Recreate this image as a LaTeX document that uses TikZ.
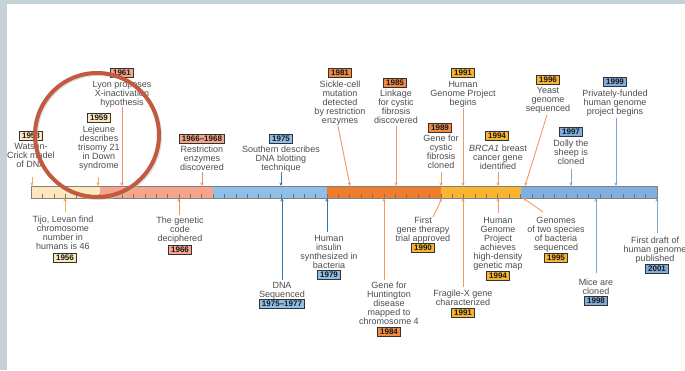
\documentclass[tikz,border=0pt]{standalone}
\usepackage{fontspec}
\setmainfont{Liberation Sans}
\usetikzlibrary{arrows.meta}
\definecolor{strip}{HTML}{C6D1D8}
\definecolor{cream}{HTML}{FCE8BC}
\definecolor{salmon}{HTML}{F6A58B}
\definecolor{lblue}{HTML}{8EBFE8}
\definecolor{orng}{HTML}{EE7E2C}
\definecolor{gold}{HTML}{F9B430}
\definecolor{mblue}{HTML}{80AEDE}
\definecolor{txt}{HTML}{4D4D4D}
\definecolor{ring}{HTML}{C25A40}
\definecolor{ayel}{HTML}{F2B04C}
\definecolor{asal}{HTML}{F08F5F}
\definecolor{ablu}{HTML}{2C78B8}
\definecolor{aorg}{HTML}{F29A66}
\definecolor{amb}{HTML}{7DA5CF}
\tikzset{
  yb/.style={draw=black!80, line width=0.7pt, inner xsep=2.5pt, inner ysep=1.6pt,
    text height=5.8pt, text depth=0pt, font=\fontsize{8}{8}\selectfont\bfseries, text=black!90},
  lbl/.style={align=center, inner sep=0pt, text=txt, font=\fontsize{9}{9}\selectfont, anchor=north},
  arr/.style={-{Stealth[length=3.6pt,width=3.2pt]}, line width=0.9pt},
}
\begin{document}
\begin{tikzpicture}[x=1pt,y=-1pt]
\useasboundingbox (0,0) rectangle (685,370);
% background strips
\fill[white] (0,0) rectangle (685,370);
\fill[strip] (0,0) rectangle (7,370);
\fill[strip] (0,0) rectangle (685,4);

% timeline bar
\fill[cream]  (31,186) rectangle (100,198);
\fill[salmon] (100,186) rectangle (213,198);
\fill[lblue]  (213,186) rectangle (327,198);
\fill[orng]   (327,186) rectangle (441,198);
\fill[gold]   (441,186) rectangle (521,198);
\fill[mblue]  (521,186) rectangle (657,198);
\foreach \k in {1,...,54} \draw[black!55, line width=0.5pt] ({31+\k*11.382},198) -- ({31+\k*11.382},194);
\node[draw=black!50, line width=0.6pt, minimum width=626pt, minimum height=12pt, inner sep=0pt, anchor=north west] (bar) at (31,186) {};

% ---------- top events ----------
% 1953
\node[yb, fill=cream] (y1953) at (31,136) {1953};
\node[lbl] (t1953) at (31,142.7) {Watson-\\Crick model\\of DNA};
\coordinate (s1953) at (32,177); \coordinate (e1953) at (32,186);
\draw[arr, ayel] (s1953) -- (e1953);
% 1959
\node[yb, fill=cream] (y1959) at (99,118) {1959};
\node[lbl] (t1959) at (99,125.7) {Lejeune\\describes\\trisomy 21\\in Down\\syndrome};
\coordinate (s1959) at (98,177); \coordinate (e1959) at (98,186);
\draw[arr, ayel] (s1959) -- (e1959);
% 1961
\node[yb, fill=salmon] (y1961) at (122,73) {1961};
\node[lbl] (t1961) at (122,80.7) {Lyon proposes\\X-inactivation\\hypothesis};
\coordinate (s1961) at (122,107); \coordinate (e1961) at (122,186);
\draw[arr, asal] (s1961) -- (e1961);
% 1966-1968
\node[yb, fill=salmon] (y1966b) at (202,139) {1966--1968};
\node[lbl] (t1966b) at (202,145.7) {Restriction\\enzymes\\discovered};
\coordinate (s1966b) at (202,172); \coordinate (e1966b) at (202,186);
\draw[arr, asal] (s1966b) -- (e1966b);
% 1975
\node[yb, fill=lblue] (y1975) at (281,139) {1975};
\node[lbl] (t1975) at (281,145.7) {Southern describes\\DNA blotting\\technique};
\coordinate (s1975) at (281,172); \coordinate (e1975) at (281,186);
\draw[arr, ablu] (s1975) -- (e1975);
% 1981
\node[yb, fill=orng!90] (y1981) at (340,73) {1981};
\node[lbl] (t1981) at (340,80.7) {Sickle-cell\\mutation\\detected\\by restriction\\enzymes};
\coordinate (s1981) at (338,126); \coordinate (e1981) at (350,186);
\draw[arr, aorg] (s1981) -- (e1981);
% 1985
\node[yb, fill=orng!90] (y1985) at (395,83) {1985};
\node[lbl] (t1985) at (396,89.7) {Linkage\\for cystic\\fibrosis\\discovered};
\coordinate (s1985) at (396,126); \coordinate (e1985) at (396,186);
\draw[arr, aorg] (s1985) -- (e1985);
% 1991 HGP
\node[yb, fill=gold] (y1991a) at (463,73) {1991};
\node[lbl] (t1991a) at (463,80.7) {Human\\Genome Project\\begins};
\coordinate (s1991a) at (463,108); \coordinate (e1991a) at (463,186);
\draw[arr, aorg] (s1991a) -- (e1991a);
% 1989
\node[yb, fill=orng!90] (y1989) at (440,128) {1989};
\node[lbl] (t1989) at (441,134.7) {Gene for\\cystic\\fibrosis\\cloned};
\coordinate (s1989) at (441,172); \coordinate (e1989) at (441,186);
\draw[arr, aorg] (s1989) -- (e1989);
% 1994 BRCA1
\node[yb, fill=gold] (y1994a) at (497,136) {1994};
\node[lbl] (t1994a) at (498,144.7) {\textit{BRCA1} breast\\cancer gene\\identified};
\coordinate (s1994a) at (498,172); \coordinate (e1994a) at (498,186);
\draw[arr, aorg] (s1994a) -- (e1994a);
% 1996
\node[yb, fill=gold] (y1996) at (548,80) {1996};
\node[lbl] (t1996) at (548,86.7) {Yeast\\genome\\sequenced};
\coordinate (s1996) at (547,115); \coordinate (e1996) at (525,186);
\draw[arr, aorg] (s1996) -- (e1996);
% 1999
\node[yb, fill=mblue] (y1999) at (615,82) {1999};
\node[lbl] (t1999) at (615,89.7) {Privately-funded\\human genome\\project begins};
\coordinate (s1999) at (616,118); \coordinate (e1999) at (616,186);
\draw[arr, amb] (s1999) -- (e1999);
% 1997
\node[yb, fill=mblue] (y1997) at (571,132) {1997};
\node[lbl] (t1997) at (571,139.7) {Dolly the\\sheep is\\cloned};
\coordinate (s1997) at (571,169); \coordinate (e1997) at (571,186);
\draw[arr, amb] (s1997) -- (e1997);

% ---------- bottom events ----------
% 1956
\node[lbl] (t1956) at (63,215.7) {Tijo, Levan find\\chromosome\\number in\\humans is 46};
\node[yb, fill=cream] (y1956) at (65,258) {1956};
\coordinate (s1956) at (65,212); \coordinate (e1956) at (65,198);
\draw[arr, ayel] (s1956) -- (e1956);
% 1966
\node[lbl] (t1966) at (180,216.7) {The genetic\\code\\deciphered};
\node[yb, fill=salmon] (y1966) at (180,250) {1966};
\coordinate (s1966) at (179,215); \coordinate (e1966) at (179,198);
\draw[arr, asal] (s1966) -- (e1966);
% 1975-1977
\node[lbl] (t1975b) at (282,281.7) {DNA\\Sequenced};
\node[yb, fill=lblue] (y1975b) at (282,304) {1975--1977};
\coordinate (s1975b) at (282,280); \coordinate (e1975b) at (282,198);
\draw[arr, ablu] (s1975b) -- (e1975b);
% 1979
\node[lbl] (t1979) at (329,234.7) {Human\\insulin\\synthesized in\\bacteria};
\node[yb, fill=lblue] (y1979) at (329,275) {1979};
\coordinate (s1979) at (327,232); \coordinate (e1979) at (327,198);
\draw[arr, ablu] (s1979) -- (e1979);
% 1984
\node[lbl] (t1984) at (389,281.7) {Gene for\\Huntington\\disease\\mapped to\\chromosome 4};
\node[yb, fill=orng!90] (y1984) at (389,332) {1984};
\coordinate (s1984) at (384,280); \coordinate (e1984) at (384,198);
\draw[arr, aorg] (s1984) -- (e1984);
% 1990
\node[lbl] (t1990) at (423,216.7) {First\\gene therapy\\trial approved};
\node[yb, fill=gold] (y1990) at (423,248) {1990};
\coordinate (s1990) at (433,217); \coordinate (e1990) at (442,198);
\draw[arr, aorg] (s1990) -- (e1990);
% 1991 Fragile-X
\node[lbl] (t1991b) at (463,289.7) {Fragile-X gene\\characterized};
\node[yb, fill=gold] (y1991b) at (463,313) {1991};
\coordinate (s1991b) at (463,287); \coordinate (e1991b) at (463,198);
\draw[arr, aorg] (s1991b) -- (e1991b);
% 1994 map
\node[lbl] (t1994b) at (498,216.7) {Human\\Genome\\Project\\achieves\\high-density\\genetic map};
\node[yb, fill=gold] (y1994b) at (498,276) {1994};
\coordinate (s1994b) at (498,213); \coordinate (e1994b) at (498,198);
\draw[arr, aorg] (s1994b) -- (e1994b);
% 1995
\node[lbl] (t1995) at (556,216.7) {Genomes\\of two species\\of bacteria\\sequenced};
\node[yb, fill=gold] (y1995) at (556,258) {1995};
\coordinate (s1995) at (543,212); \coordinate (e1995) at (523,198);
\draw[arr, aorg] (s1995) -- (e1995);
% 1998
\node[lbl] (t1998) at (596,278.7) {Mice are\\cloned};
\node[yb, fill=mblue] (y1998) at (596,301) {1998};
\coordinate (s1998) at (596,273); \coordinate (e1998) at (596,198);
\draw[arr, amb] (s1998) -- (e1998);
% 2001
\node[lbl] (t2001) at (655,236.7) {First draft of\\human genome\\published};
\node[yb, fill=mblue] (y2001) at (657,269) {2001};
\coordinate (s2001) at (657,233); \coordinate (e2001) at (657,198);
\draw[arr, amb] (s2001) -- (e2001);

% highlight ring
\draw[black!25, line width=3pt, opacity=0.5] (98.5,136.5) circle (62pt);
\draw[ring, line width=4pt] (97,135) circle (62pt);
\end{tikzpicture}
\end{document}
